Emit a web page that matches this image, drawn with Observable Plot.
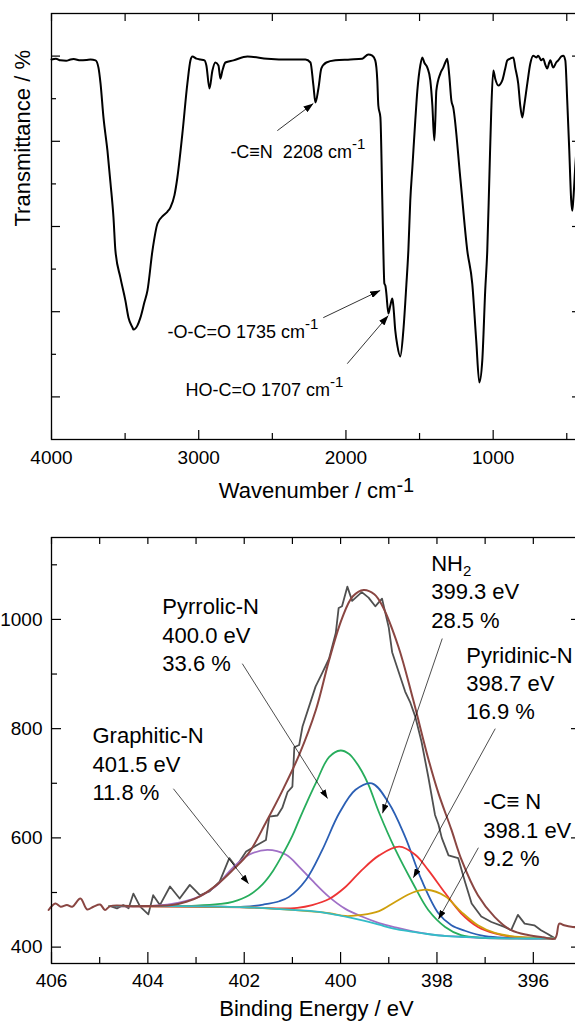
<!DOCTYPE html>
<html><head><meta charset="utf-8">
<script src="https://cdn.jsdelivr.net/npm/d3@7"></script>
<script src="https://cdn.jsdelivr.net/npm/@observablehq/plot@0.6"></script>
<style>
html,body{margin:0;padding:0;background:#fff;overflow:hidden;}
#chart svg{display:block;}
</style></head>
<body><div id="chart"></div>
<script>
const FONT = "'Liberation Sans', Arial, Helvetica, sans-serif";

// ---------------- FTIR panel data ----------------
const ftirWavenumber = [4000,3970,3939,3900,3871,3850,3803,3760,3735,3701,3681,3667,3647,3620,3599,3579,3566,3532,3498,3477,3450,3443,3416,3396,3369,3348,3314,3280,3240,3212,3192,3165,3145,3111,3077,3056,3043,3016,2988,2961,2948,2927,2907,2887,2866,2853,2839,2819,2764,2669,2534,2377,2275,2241,2221,2207,2187,2167,2133,2072,1970,1889,1848,1821,1801,1787,1780,1766,1753,1746,1739,1732,1726,1712,1699,1685,1678,1665,1651,1631,1610,1590,1576,1563,1549,1529,1515,1495,1481,1468,1447,1427,1413,1400,1393,1386,1359,1339,1325,1312,1298,1284,1271,1223,1176,1142,1115,1094,1074,1054,1040,1026,1013,999,986,965,938,918,904,884,863,850,830,816,802,789,768,748,728,707,694,673,660,646,633,619,612,592,572,558,538,524,510,497,483,470,463,456,442,420];
const ftirTransmittance = [89.2,89.4,89.0,88.9,89.2,89.3,89.0,89.1,89.2,89.0,87.3,83.6,75.6,67.8,60.1,52.1,44.4,38.0,32.6,28.6,26.3,25.8,26.8,28.6,32.2,35.0,44.4,50.7,52.6,53.5,54.5,57.3,61.5,71.8,83.6,89.0,89.9,89.4,89.2,89.0,87.8,82.4,86.6,88.5,87.8,84.7,86.6,88.5,89.0,89.9,89.4,89.2,89.2,88.5,83.1,79.1,82.4,87.1,88.5,89.0,89.2,89.4,90.4,90.1,89.0,84.3,78.4,75.6,56.1,44.4,36.6,36.1,34.5,29.6,31.4,33.1,31.4,25.6,22.1,19.5,25.6,36.1,44.4,56.1,63.8,74.9,81.9,87.8,89.7,88.5,87.3,84.3,78.4,70.2,74.9,81.9,85.9,87.3,88.5,89.4,85.4,79.6,77.9,61.3,44.4,36.6,23.2,13.4,18.5,35.0,44.4,61.3,77.2,86.6,84.7,83.1,84.3,87.1,89.0,89.4,89.7,87.3,83.6,78.4,75.6,78.4,83.6,88.2,90.1,89.7,90.1,89.0,89.4,88.0,87.1,88.5,89.0,87.3,88.5,89.0,89.9,90.1,89.0,79.6,67.8,56.1,53.7,56.1,64.3,75.0];
const ftirXTicksMajor = [4000, 3000, 2000, 1000];
const ftirXTicksMinor = [3500, 2500, 1500, 500];
const ftirYTicksMajor = [10, 30, 50, 70, 90];
const ftirYTicksMinor = [20, 40, 60, 80];
const ftirNoteText = ["-C≡N  2208 cm-1", "-O-C=O 1735 cm-1", "HO-C=O 1707 cm-1"];
const ftirNoteX = [2785, 3212, 3090];
const ftirNoteY = [67.4, 25.1, 11.5];
const ftirArrowX1 = [2466, 2154, 1991];
const ftirArrowY1 = [72.5, 28.6, 17.8];
const ftirArrowX2 = [2221, 1767, 1712];
const ftirArrowY2 = [78.9, 35.0, 29.1];

// ---------------- XPS N1s panel data ----------------
const rawEnergy = [404.78,404.64,404.51,404.40,404.30,404.16,403.99,403.89,403.75,403.54,403.34,403.13,402.92,402.72,402.51,402.31,402.17,401.96,401.75,401.55,401.48,401.31,401.21,401.10,401.00,400.96,400.86,400.79,400.52,400.38,400.24,400.10,400.04,399.97,399.86,399.76,399.56,399.42,399.28,399.14,399.00,398.93,398.66,398.55,398.45,398.32,398.18,398.04,397.97,397.90,397.76,397.56,397.42,397.28,397.08,396.87,396.60,396.46,396.32,396.18,395.98,395.84,395.70,395.55];
const rawCounts = [475,471,477,471,498,474,460,495,477,511,489,514,495,502,520,563,547,575,586,596,639,641,655,684,694,766,770,804,877,902,928,975,1021,1024,1060,1034,1050,1040,1024,1038,985,940,868,847,822,776,712,642,625,600,568,563,520,480,456,446,437,431,459,443,440,431,424,416];
const envelope = [[406.06,468],[405.92,480],[405.81,474],[405.68,477],[405.57,474],[405.40,489],[405.26,469],[405.13,474],[404.99,478],[404.89,468],[404.78,475],[404.3,475],[403.5,477],[403.2,483],[402.92,493],[402.57,514],[402.24,541],[401.9,573],[401.54,630],[401.2,688],[400.86,752],[400.51,835],[400.24,925],[399.97,1002],[399.75,1042],[399.52,1054],[399.3,1046],[399.14,1026],[398.8,950],[398.5,855],[398.18,745],[397.97,682],[397.7,615],[397.5,562],[397.15,495],[396.8,455],[396.46,431],[396.11,422],[395.8,418],[395.55,416],[395.46,443],[395.36,440],[395.18,437],[395.0,436]];
const graphiticN = [[404.8,475],[404,475],[403.5,479],[403,490],[402.8,499],[402.57,513],[402.24,545],[401.9,569],[401.52,578],[401.13,569],[400.86,547],[400.59,522],[400.24,492],[399.9,470],[399.56,456],[399.2,444],[398.86,436],[398.5,429],[398,422],[397.5,419],[396.8,416],[395.55,416]];
const pyrrolicN = [[404.8,475],[403,476],[402.5,479],[402.24,483],[401.9,495],[401.62,515],[401.4,540],[401.2,570],[401.0,604],[400.86,633],[400.7,665],[400.51,701],[400.24,748],[400.0,760],[399.83,754],[399.69,740],[399.56,722],[399.42,697],[399.2,646],[398.86,578],[398.5,517],[398.18,468],[397.83,437],[397.5,422],[397.0,417],[396.5,416],[395.55,416]];
const nh2 = [[404.8,475],[402.5,474],[402,474],[401.6,478],[401.27,484],[401.07,492],[400.72,523],[400.38,578],[400.03,645],[399.69,688],[399.35,700],[399.0,664],[398.66,602],[398.32,523],[397.97,462],[397.7,440],[397.42,430],[397.0,420],[396.5,417],[395.55,416]];
const pyridinicN = [[404.8,475],[402,473],[401.27,471],[400.9,472],[400.59,477],[400.24,488],[399.9,510],[399.56,541],[399.2,568],[398.78,584],[398.45,569],[398.18,541],[397.83,499],[397.5,462],[397.15,437],[396.8,425],[396.46,419],[396.0,417],[395.55,416]];
const nitrileN = [[404.8,475],[402,473],[401,468],[400.24,462],[399.9,457],[399.56,459],[399.2,466],[398.86,483],[398.5,500],[398.2,505],[397.83,493],[397.5,465],[397.15,440],[396.8,426],[396.46,420],[396.0,417],[395.55,416]];
const shirleyBackground = [[404.8,475],[403.5,475],[402.5,474],[402,473],[401.5,471],[401,468],[400.5,465],[400.2,461],[399.8,454],[399.5,448],[399.2,441],[398.9,434],[398.5,428],[398.2,424],[397.8,420],[397.5,419],[397.0,417],[396.5,416],[395.55,416]];
const xpsXTicksMajor = [406, 404, 402, 400, 398, 396];
const xpsXTicksMinor = [405, 403, 401, 399, 397, 395];
const xpsXTicksTop = [406, 405, 404, 403, 402, 401, 400, 399, 398, 397, 396];
const xpsYTicksMajor = [400, 600, 800, 1000];
const xpsYTicksMinor = [500, 700, 900, 1100];
const xpsNoteText = ["Graphitic-N\n401.5 eV\n11.8 %", "Pyrrolic-N\n400.0 eV\n33.6 %", "NH2\n399.3 eV\n28.5 %", "Pyridinic-N\n398.7 eV\n16.9 %", "-C≡ N\n398.1 eV\n9.2 %"];
const xpsNoteX = [405.15, 403.70, 398.12, 397.39, 397.04];
const xpsNoteY = [738, 974, 1053, 886, 617];
const xpsArrowX1 = [403.47, 402.04, 397.89, 396.79, 397.14];
const xpsArrowY1 = [690, 919, 965, 800, 582];
const xpsArrowX2 = [401.91, 400.27, 399.13, 398.49, 397.97];
const xpsArrowY2 = [516, 672, 645, 527, 451];

// ---------------- helpers ----------------
function frameTicks(xMajor, xMinor, xTop, yMajor, yMinor, iw, ih, L) {
  const s = {stroke: "black", strokeWidth: 1.2};
  return [
    Plot.tickX(xMajor, {x: d => d, insetTop: ih - L.xMajor, ...s}),
    Plot.tickX(xMinor, {x: d => d, insetTop: ih - L.xMinor, ...s}),
    Plot.tickX(xTop, {x: d => d, insetBottom: ih - L.top, ...s}),
    Plot.tickY(yMajor, {y: d => d, insetRight: iw - L.yMajor, ...s}),
    Plot.tickY(yMinor, {y: d => d, insetRight: iw - L.yMinor, ...s}),
    Plot.tickY(yMajor, {y: d => d, insetLeft: iw - L.yMajor, ...s}),
    Plot.tickY(yMinor, {y: d => d, insetLeft: iw - L.yMinor, ...s})
  ];
}
function enrichText(svg, rules) {
  const ns = "http://www.w3.org/2000/svg";
  svg.querySelectorAll("text, tspan").forEach(el => {
    if (el.childElementCount) return;
    const t = el.textContent;
    for (const r of rules) {
      if (r.test(t)) {
        el.textContent = t.slice(0, t.length - r.script.length);
        const ts = document.createElementNS(ns, "tspan");
        ts.textContent = r.script;
        ts.setAttribute("font-size", r.size);
        ts.setAttribute("baseline-shift", r.shift);
        el.appendChild(ts);
        break;
      }
    }
  });
}
function addArrowheads(svg, id, len, wid) {
  const ns = "http://www.w3.org/2000/svg";
  const defs = document.createElementNS(ns, "defs");
  const m = document.createElementNS(ns, "marker");
  m.setAttribute("id", id);
  m.setAttribute("viewBox", `0 0 ${len} ${wid}`);
  m.setAttribute("refX", len); m.setAttribute("refY", wid / 2);
  m.setAttribute("markerWidth", len); m.setAttribute("markerHeight", wid);
  m.setAttribute("markerUnits", "userSpaceOnUse");
  m.setAttribute("orient", "auto");
  const p = document.createElementNS(ns, "path");
  p.setAttribute("d", `M0,0L${len},${wid / 2}L0,${wid}Z`);
  p.setAttribute("fill", "black");
  m.appendChild(p); defs.appendChild(m);
  svg.insertBefore(defs, svg.firstChild);
  svg.querySelectorAll('g[aria-label="link"] path').forEach(el => el.setAttribute("marker-end", `url(#${id})`));
}

const W = 575, ML = 51, MR = -6;
const IW = W - ML - MR;

// ---------------- top: FTIR ----------------
const ftir = ftirWavenumber.map((w, i) => ({w, t: ftirTransmittance[i]}));
const ftirNotes = ftirNoteText.map((text, i) => ({text, x: ftirNoteX[i], y: ftirNoteY[i]}));
const ftirArrows = ftirArrowX1.map((x1, i) => ({x1, y1: ftirArrowY1[i], x2: ftirArrowX2[i], y2: ftirArrowY2[i]}));
const H1 = 510, MT1 = 13, MB1 = 71, IH1 = H1 - MT1 - MB1;

const ftirPlot = Plot.plot({
  width: W, height: H1, marginLeft: ML, marginRight: MR, marginTop: MT1, marginBottom: MB1,
  style: {fontFamily: FONT, fontSize: "19px", background: "white"},
  x: {domain: [4000, 400]},
  y: {domain: [0, 100], axis: null},
  marks: [
    Plot.line(ftir, {x: "w", y: "t", stroke: "black", strokeWidth: 2, curve: "monotone-x"}),
    ...frameTicks(ftirXTicksMajor, ftirXTicksMinor, [...ftirXTicksMajor, ...ftirXTicksMinor], ftirYTicksMajor, ftirYTicksMinor, IW, IH1,
      {xMajor: 9, xMinor: 6, top: 8, yMajor: 9, yMinor: 5}),
    Plot.frame({stroke: "black", strokeWidth: 1.3}),
    Plot.axisX(ftirXTicksMajor, {anchor: "bottom", tickSize: 0, tickPadding: 11, fontSize: 19, tickFormat: d => String(d), label: null}),
    Plot.text(["Wavenumber / cm-1"], {text: d => d, frameAnchor: "bottom", dy: 58, fontSize: 22}),
    Plot.text(["Transmittance / %"], {text: d => d, frameAnchor: "left", dx: -29, rotate: -90, fontSize: 22}),
    Plot.text(ftirNotes, {x: "x", y: "y", text: "text", textAnchor: "start", lineAnchor: "middle", fontSize: 18}),
    Plot.link(ftirArrows, {x1: "x1", y1: "y1", x2: "x2", y2: "y2", stroke: "black", strokeWidth: 0.8})
  ]
});
enrichText(ftirPlot, [
  {test: t => t === "Wavenumber / cm-1", script: "-1", size: "20px", shift: "6px"},
  {test: t => t.endsWith("cm-1"), script: "-1", size: "15px", shift: "9px"}
]);
addArrowheads(ftirPlot, "ahTop", 10, 7);

// ---------------- bottom: XPS ----------------
const raw = rawEnergy.map((e, i) => ({e, c: rawCounts[i]}));
const xpsNotes = xpsNoteText.map((text, i) => ({text, x: xpsNoteX[i], y: xpsNoteY[i]}));
const xpsArrows = xpsArrowX1.map((x1, i) => ({x1, y1: xpsArrowY1[i], x2: xpsArrowX2[i], y2: xpsArrowY2[i]}));
const comp = (data, color) => Plot.line(data, {x: d => d[0], y: d => d[1], stroke: color, strokeWidth: 1.8, curve: "catmull-rom"});
const H2 = 518, MT2 = 27, MB2 = 65, IH2 = H2 - MT2 - MB2;

const xpsPlot = Plot.plot({
  width: W, height: H2, marginLeft: ML, marginRight: MR, marginTop: MT2, marginBottom: MB2,
  style: {fontFamily: FONT, fontSize: "19px", background: "white"},
  x: {domain: [406, 395]},
  y: {domain: [370, 1150]},
  marks: [
    Plot.line(raw, {x: "e", y: "c", stroke: "#505050", strokeWidth: 1.8}),
    comp(graphiticN, "#a070c6"),
    comp(pyrrolicN, "#27ad5c"),
    comp(nh2, "#2b5fb4"),
    comp(pyridinicN, "#ee3434"),
    comp(nitrileN, "#cf9f0c"),
    comp(shirleyBackground, "#33bcc8"),
    Plot.line(envelope, {x: d => d[0], y: d => d[1], stroke: "#8a4642", strokeWidth: 2, curve: "catmull-rom"}),
    ...frameTicks(xpsXTicksMajor, xpsXTicksMinor, xpsXTicksTop, xpsYTicksMajor, xpsYTicksMinor, IW, IH2,
      {xMajor: 11, xMinor: 6, top: 7, yMajor: 10, yMinor: 6}),
    Plot.frame({stroke: "black", strokeWidth: 1.3}),
    Plot.axisX(xpsXTicksMajor, {anchor: "bottom", tickSize: 0, tickPadding: 10, fontSize: 19, tickFormat: d => String(d), label: null}),
    Plot.axisY(xpsYTicksMajor, {anchor: "left", tickSize: 0, tickPadding: 9, fontSize: 19, tickFormat: d => String(d), label: null}),
    Plot.text(["Binding Energy / eV"], {text: d => d, frameAnchor: "bottom", dy: 52, fontSize: 22}),
    Plot.text(xpsNotes, {x: "x", y: "y", text: "text", textAnchor: "start", lineAnchor: "middle", fontSize: 22, lineHeight: 1.28}),
    Plot.link(xpsArrows, {x1: "x1", y1: "y1", x2: "x2", y2: "y2", stroke: "black", strokeWidth: 0.7})
  ]
});
enrichText(xpsPlot, [
  {test: t => t === "NH2", script: "2", size: "15px", shift: "-5px"}
]);
addArrowheads(xpsPlot, "ahBottom", 9, 6.5);

const host = document.getElementById("chart");
host.appendChild(ftirPlot);
host.appendChild(xpsPlot);
</script>
</body></html>
